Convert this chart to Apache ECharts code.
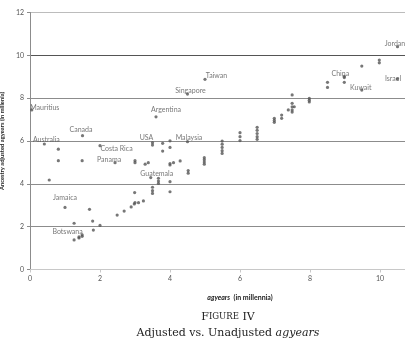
<!DOCTYPE html>
<html><head><meta charset="utf-8">
<script src="https://cdn.jsdelivr.net/npm/echarts@6/dist/echarts.min.js"></script>
<style>html,body{margin:0;padding:0;background:#fff}#c{width:405px;height:345px}</style>
</head><body><div id="c"></div>
<script>
// tick labels
const xTicks = [0, 2, 4, 6, 8, 10, 12];
const yTicks = [0, 2, 4, 6, 8, 10, 12];

// labelled countries
const countryNames = ['Mauritius','Canada','Australia','Costa Rica','Panama','Jamaica','Botswana','USA','Malaysia','Guatemala','Argentina','Singapore','Taiwan','China','Kuwait','Jordan','Israel'];
const countryX = [0.05, 1.5, 0.41, 2.0, 2.43, 1.0, 1.26, 3.5, 4.5, 3.45, 3.6, 4.5, 5.0, 8.98, 9.48, 10.5, 10.5];
const countryY = [7.45, 6.25, 5.86, 5.78, 4.99, 2.9, 1.38, 5.92, 5.97, 4.29, 7.13, 8.19, 8.88, 8.96, 8.38, 10.4, 8.9];

// other countries (unlabelled)
const otherX = [0.81,0.81,0.55,1.49,1.70,1.26,1.79,2.0,1.81,1.4,1.4,1.49,1.49,2.49,2.69,2.89,2.99,2.98,3.0,3.1,3.24,3.0,3.0,3.29,3.38,3.5,3.79,3.79,4.0,4.0,4.0,4.0,4.1,4.29,4.98,4.98,4.98,4.98,4.52,4.52,3.67,3.67,3.67,4.0,4.0,3.5,3.5,3.5,5.49,5.49,5.49,5.49,5.49,6.0,6.0,6.0,6.49,6.49,6.49,6.49,6.49,6.98,6.98,6.98,7.19,7.19,7.38,7.49,7.49,7.49,7.49,7.49,7.55,7.98,7.98,7.98,8.5,8.5,8.98,8.98,9.48,9.98,9.98];
const otherY = [5.62,5.08,4.18,5.08,2.81,2.16,2.26,2.06,1.84,1.47,1.52,1.55,1.62,2.54,2.73,2.92,3.59,3.06,3.12,3.12,3.2,5.08,4.99,4.92,4.99,5.81,5.89,5.53,6.01,5.70,4.95,4.88,4.99,5.07,5.22,5.12,5.02,4.92,4.62,4.5,4.26,4.13,4.02,4.1,3.63,3.84,3.68,3.55,6.0,5.85,5.7,5.55,5.42,6.39,6.2,6.02,6.64,6.5,6.35,6.2,6.08,7.06,6.96,6.87,7.21,7.06,7.45,8.15,7.76,7.6,7.45,7.35,7.6,7.99,7.9,7.82,8.74,8.5,8.74,9.02,9.5,9.78,9.65];

// label placement (style, not data): offset of label centre from marker
const labelOffsets = {
  'Mauritius':[13,-2],'Canada':[-1.5,-6],'Australia':[2,-4],'Costa Rica':[16.5,3.5],'Panama':[-6,-3],
  'Jamaica':[0,-10],'Botswana':[-6.5,-8],'USA':[-6,-4.5],'Malaysia':[1.5,-3.5],'Guatemala':[6,-4.3],
  'Argentina':[10,-7],'Singapore':[3,-3.5],'Taiwan':[11.5,-4],'China':[-4,-3.5],'Kuwait':[-1,-2],
  'Jordan':[-2.5,-3],'Israel':[-4.5,-0.5]
};

const labelled = countryNames.map((n, i) => ({ name: n, value: [countryX[i], countryY[i]] }));
const others = otherX.map((x, i) => [x, otherY[i]]);

const chart = echarts.init(document.getElementById('c'), null, {renderer: 'canvas'});
const sans = 'Lato';
chart.setOption({
  animation: false,
  grid: { left: 30, right: -45, top: 12.5, bottom: 75.5, containLabel: false, outerBoundsMode: 'none' },
  xAxis: {
    type: 'value', min: xTicks[0], max: xTicks[xTicks.length - 1], interval: 2,
    name: '{i|agyears} {n|(in millennia)}', nameLocation: 'middle', nameGap: 22,
    nameTextStyle: { rich: {
      i: { fontFamily: sans, fontSize: 7, fontWeight: 'bold', fontStyle: 'italic', color: '#222' },
      n: { fontFamily: sans, fontSize: 7, fontWeight: 'bold', color: '#222' } } },
    axisLine: { show: true, lineStyle: { color: '#c8c8c8', width: 1 } },
    axisTick: { show: true, length: 3, lineStyle: { color: '#c8c8c8' } },
    axisLabel: { fontFamily: sans, fontSize: 7, color: '#555', margin: 6 },
    splitLine: { show: false }
  },
  yAxis: {
    type: 'value', min: yTicks[0], max: yTicks[yTicks.length - 1], interval: 2,
    name: 'Ancestry adjusted agyears (in millenia)', nameLocation: 'middle', nameGap: 18,
    nameTextStyle: { fontFamily: sans, fontSize: 5.8, fontWeight: 'bold', color: '#222' },
    axisLine: { show: true, lineStyle: { color: '#8c8c8c', width: 1 } },
    axisTick: { show: true, length: 3, lineStyle: { color: '#8c8c8c' } },
    axisLabel: { fontFamily: sans, fontSize: 7, color: '#555', margin: 6 },
    splitLine: { show: true, lineStyle: { color: ['#c8c8c8','#8c8c8c','#8c8c8c','#8c8c8c','#8c8c8c','#555555','#bcbcbc'], width: 1 } }
  },
  series: [
    { type: 'scatter', data: others, symbol: 'circle', symbolSize: 3.2,
      itemStyle: { color: '#555' }, silent: true },
    { type: 'scatter', data: labelled, symbol: 'circle', symbolSize: 3.2,
      itemStyle: { color: '#555' },
      label: { show: true, formatter: '{b}', position: 'inside', fontFamily: sans, fontSize: 7,
        color: '#555', align: 'center', verticalAlign: 'middle' },
      labelLayout: function (p) {
        const o = labelOffsets[countryNames[p.dataIndex]] || [0, 0];
        return { dx: o[0], dy: o[1], hideOverlap: false };
      } }
  ],
  graphic: [
    { type: 'text', x: 228, y: 317, style: {
      text: '{a|F}{b|IGURE}{a| IV}', fill: '#222', align: 'center', verticalAlign: 'middle',
      rich: { a: { fontFamily: 'DejaVu Serif', fontSize: 11, fill: '#222' },
              b: { fontFamily: 'DejaVu Serif', fontSize: 8.5, fill: '#222' } } } },
    { type: 'text', x: 228, y: 333, style: {
      text: '{r|Adjusted vs. Unadjusted }{i|agyears}', fill: '#222', align: 'center', verticalAlign: 'middle',
      rich: { r: { fontFamily: 'DejaVu Serif', fontSize: 11, fill: '#222' },
              i: { fontFamily: 'DejaVu Serif', fontSize: 11, fontStyle: 'italic', fill: '#222' } } } }
  ]
});
</script>
</body></html>
